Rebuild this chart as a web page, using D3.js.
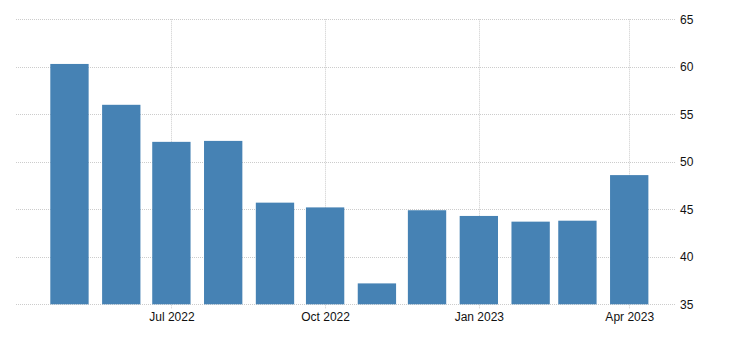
<!DOCTYPE html>
<html><head><meta charset="utf-8">
<script src="https://cdn.jsdelivr.net/npm/d3@7"></script>
<style>
body{margin:0;background:#fff;}
svg{display:block;font-family:Arial,"Liberation Sans",sans-serif;}
</style></head>
<body><svg id="c" width="730" height="349"></svg>
<script>
const months = ["2022-05","2022-06","2022-07","2022-08","2022-09","2022-10","2022-11","2022-12","2023-01","2023-02","2023-03","2023-04"];
const values = [60.3,56.0,52.1,52.2,45.7,45.2,37.2,44.9,44.3,43.7,43.8,48.6];
const yTicks = [35,40,45,50,55,60,65];
const xTickDates = ["2022-07","2022-10","2023-01","2023-04"];

const parse = d3.timeParse("%Y-%m");
const svg = d3.select("#c");
const pLeft = 16, pRight = 676, pTop = 19.3, pBottom = 304.3;

const x = d3.scaleTime().domain([new Date(2022,2,30), new Date(2023,3,29)]).range([pLeft,pRight]);
const y = d3.scaleLinear().domain([35,65]).range([pBottom,pTop]);

const grid = "#cccccc";
svg.append("g").selectAll("line").data(yTicks).join("line")
  .attr("x1",pLeft).attr("x2",pRight)
  .attr("y1",d=>Math.round(y(d))+0.5).attr("y2",d=>Math.round(y(d))+0.5)
  .attr("stroke",grid).attr("stroke-dasharray","1,1");
svg.append("g").selectAll("line").data(xTickDates).join("line")
  .attr("x1",d=>Math.round(x(parse(d)))+0.5).attr("x2",d=>Math.round(x(parse(d)))+0.5)
  .attr("y1",pTop).attr("y2",pBottom+5)
  .attr("stroke",grid).attr("stroke-dasharray","1,1");

const data = months.map((m,i)=>({d:parse(m),v:values[i]}));
const bw = 0.74*(x(parse("2022-06"))-x(parse("2022-05")));
svg.append("g").selectAll("rect").data(data).join("rect")
  .attr("x",d=>x(d.d)-bw/2).attr("width",bw)
  .attr("y",d=>y(d.v)).attr("height",d=>y(35)-y(d.v))
  .attr("fill","#4682b4");

const ya = svg.append("g").attr("transform",`translate(${pRight},0)`)
  .call(d3.axisRight(y).tickValues(yTicks).tickSize(0).tickPadding(4));
ya.select(".domain").remove();
ya.selectAll("text").attr("font-size","12px").attr("fill","#111").attr("font-family","Arial,'Liberation Sans',sans-serif");

const xa = svg.append("g").attr("transform",`translate(0,${pBottom})`)
  .call(d3.axisBottom(x).tickValues(xTickDates.map(parse)).tickFormat(d3.timeFormat("%b %Y")).tickSize(0).tickPadding(8));
xa.select(".domain").remove();
xa.selectAll("text").attr("font-size","12px").attr("fill","#111").attr("font-family","Arial,'Liberation Sans',sans-serif");
</script></body></html>
